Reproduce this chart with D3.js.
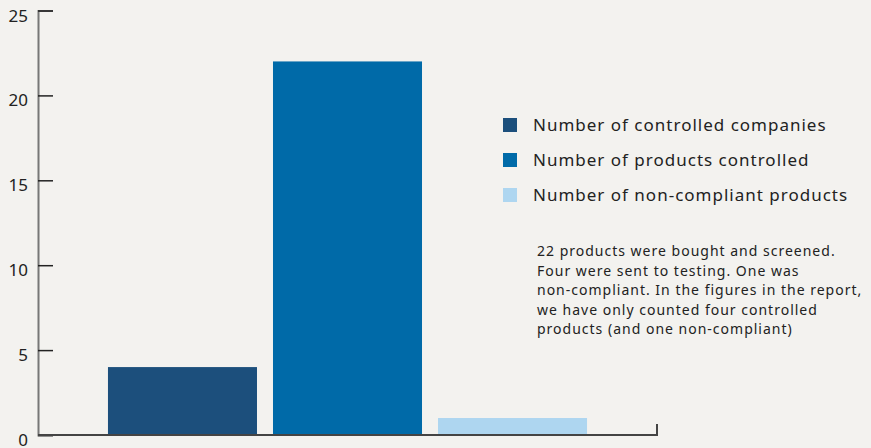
<!DOCTYPE html>
<html><head><meta charset="utf-8">
<script src="https://cdn.jsdelivr.net/npm/d3@7"></script>
<style>
html,body{margin:0;padding:0;background:#f3f2ef;}
svg{display:block;font-family:"Noto Sans",sans-serif;}
</style></head>
<body>
<svg id="chart" width="871" height="448"></svg>
<script>
const categories = ["Number of controlled companies","Number of products controlled","Number of non-compliant products"];
const values = [4, 22, 1];
const colors = ["#1c4f7c","#006aa8","#aed6f0"];
const yTicks = [0,5,10,15,20,25];
const note = ["22 products were bought and screened.","Four were sent to testing. One was","non-compliant. In the figures in the report,","we have only counted four controlled","products (and one non-compliant)"];

const svg = d3.select("#chart");
const x0 = 38, x1 = 657, yTop = 10.5, yBot = 435;
const y = d3.scaleLinear().domain([0,25]).range([yBot,yTop]);
const x = d3.scaleBand().domain(categories).range([x0,x1]).paddingInner(16/165).paddingOuter(0.424);

// bars
svg.selectAll("rect.bar").data(values).join("rect")
  .attr("class","bar")
  .attr("x",(d,i)=>x(categories[i]))
  .attr("width",x.bandwidth())
  .attr("y",d=>y(d))
  .attr("height",d=>yBot-y(d))
  .attr("fill",(d,i)=>colors[i]);

// y axis
const yAxis = d3.axisRight(y).tickValues(yTicks).tickSize(15).tickFormat("");
const ga = svg.append("g").attr("transform",`translate(${x0},0)`).call(yAxis);
ga.select(".domain").attr("stroke","#777").attr("stroke-width",2);
ga.selectAll(".tick line").attr("stroke","#222").attr("stroke-width",1.5);
svg.selectAll("text.ylab").data(yTicks).join("text")
  .attr("class","ylab")
  .attr("x",28).attr("y",d=>y(d)+11)
  .attr("text-anchor","end")
  .attr("font-size",17).attr("fill","#222")
  .text(d=>d);

// x axis baseline
svg.append("path")
  .attr("d",`M${x0},${yBot}H${x1}V${yBot-11}`)
  .attr("fill","none").attr("stroke","#444").attr("stroke-width",2);

// legend
const lg = svg.append("g");
categories.forEach((c,i)=>{
  const ly = 118 + i*35;
  lg.append("rect").attr("x",503).attr("y",ly).attr("width",14).attr("height",14).attr("fill",colors[i]);
  lg.append("text").attr("x",533).attr("y",ly+13).attr("font-size",17)
    .attr("letter-spacing",1).attr("fill","#222").text(c);
});

// note
svg.selectAll("text.note").data(note).join("text")
  .attr("class","note")
  .attr("x",537).attr("y",(d,i)=>256+i*19.5)
  .attr("font-size",14).attr("letter-spacing",1).attr("fill","#222")
  .text(d=>d);
</script>
</body></html>
